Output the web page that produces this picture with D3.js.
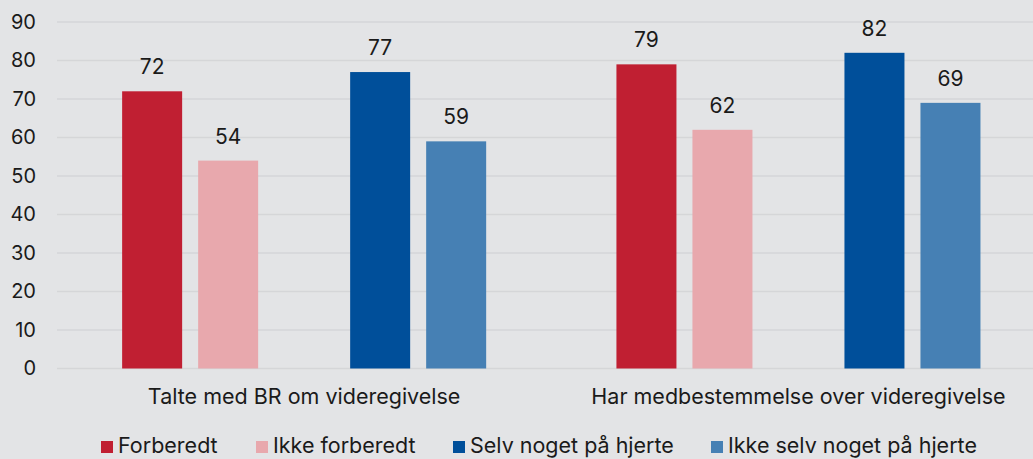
<!DOCTYPE html>
<html>
<head>
<meta charset="utf-8">
<script src="https://cdn.jsdelivr.net/npm/d3@7"></script>
<style>
  body { margin: 0; background: #e3e4e6; }
  svg { display: block; font-family: Inter, "Noto Sans", sans-serif; }
</style>
</head>
<body>
<div id="draw_zone"></div>
<script>
var categories = ["Talte med BR om videregivelse", "Har medbestemmelse over videregivelse"];
var seriesNames = ["Forberedt", "Ikke forberedt", "", "Selv noget på hjerte", "Ikke selv noget på hjerte"];
var seriesColors = ["#c01f32", "#e8a8ad", "none", "#004f9a", "#4680b4"];
var forberedt = [72, 79];
var ikkeForberedt = [54, 62];
var selvNoget = [77, 82];
var ikkeSelvNoget = [59, 69];
var yTicks = [0, 10, 20, 30, 40, 50, 60, 70, 80, 90];

var W = 1033, H = 459;
var seriesValues = [forberedt, ikkeForberedt, null, selvNoget, ikkeSelvNoget];

var holder = d3.select("#draw_zone").append("svg").attr("width", W).attr("height", H);
holder.append("rect").attr("width", W).attr("height", H).style("fill", "#e3e4e6");

var x = d3.scaleBand().domain(categories).range([57, 1045.6]).padding(0);
var xi = d3.scaleBand().domain(d3.range(5)).range([0, x.bandwidth()])
  .paddingInner(16 / 76).paddingOuter(0.857);
var y = d3.scaleLinear().domain([0, 90]).range([368.5, 22]);

// grid lines
holder.append("g").selectAll("line").data(yTicks).join("line")
  .attr("x1", 57).attr("x2", W)
  .attr("y1", d => y(d)).attr("y2", d => y(d))
  .style("stroke", "#d5d6d8").style("stroke-width", 1.3);

// y axis labels
var yAxis = d3.axisLeft(y).tickValues(yTicks).tickSize(0).tickPadding(0);
var ga = holder.append("g").attr("transform", "translate(36,0)").call(yAxis);
ga.select(".domain").remove();
ga.selectAll("text").style("font-size", "20px").style("fill", "#1a1a1a").style("font-family", "Inter, sans-serif");

// bars
var groups = holder.append("g").selectAll("g").data(categories).join("g")
  .attr("transform", d => "translate(" + x(d) + ",0)");

seriesValues.forEach(function(vals, si) {
  if (!vals) return;
  groups.append("rect")
    .attr("x", xi(si)).attr("width", xi.bandwidth())
    .attr("y", (d, ci) => y(vals[ci]))
    .attr("height", (d, ci) => y(0) - y(vals[ci]))
    .style("fill", seriesColors[si]);
  groups.append("text")
    .attr("x", xi(si) + xi.bandwidth() / 2)
    .attr("y", (d, ci) => y(vals[ci]) - 17)
    .attr("text-anchor", "middle")
    .style("font-size", "21px").style("fill", "#1a1a1a")
    .text((d, ci) => vals[ci]);
});

// category labels
holder.append("g").selectAll("text").data(categories).join("text")
  .attr("x", d => x(d) + x.bandwidth() / 2)
  .attr("y", 404)
  .attr("text-anchor", "middle")
  .style("font-size", "21.5px").style("fill", "#1a1a1a")
  .text(d => d);

// legend
var legendX = [101, 256, 453, 711];
var legendItems = [0, 1, 3, 4];
var lg = holder.append("g").selectAll("g").data(legendItems).join("g")
  .attr("transform", (d, i) => "translate(" + legendX[i] + ",0)");
lg.append("rect").attr("x", 0).attr("y", 441).attr("width", 12).attr("height", 12)
  .style("fill", d => seriesColors[d]);
lg.append("text").attr("x", 17).attr("y", 453)
  .style("font-size", "21.5px").style("fill", "#1a1a1a")
  .text(d => seriesNames[d]);
</script>
</body>
</html>
